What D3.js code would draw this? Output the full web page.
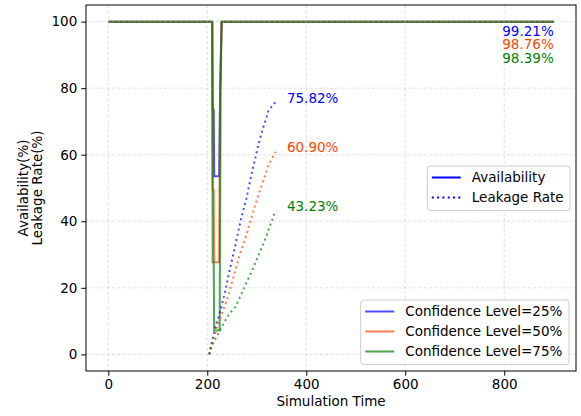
<!DOCTYPE html>
<html>
<head>
<meta charset="utf-8">
<script src="https://d3js.org/d3.v7.min.js"></script>
<style>
  body { margin:0; background:#fff; }
  svg { font-family: "DejaVu Sans", sans-serif; }
</style>
</head>
<body>
<script>

/* Data */
/* ==== */

// availability (solid) – time / value pairs
var availTime = {
  "25%": [0, 210, 211, 213, 214, 224, 226, 229, 900],
  "50%": [0, 210, 211, 213, 214, 224, 226, 229, 900],
  "75%": [0, 210, 211, 213, 214, 225, 227, 229, 900]
};
var availBlue   = [100, 100, 73.5, 73.5, 53.5, 53.5, 80, 100, 100];
var availOrange = [100, 100, 49.5, 49.5, 27.7, 27.7, 80, 100, 100];
var availGreen  = [100, 100, 27.7, 27.7, 7.2, 7.2, 80, 100, 100];

// leakage rate (dotted)
var leakTime   = [204, 207, 214, 220, 227, 237, 244, 257, 267, 279, 290, 302, 311, 318, 324, 338];
var leakBlue   = [0, 2.3, 6.8, 10, 13.3, 19.5, 24.4, 33, 40, 46.8, 54.5, 62.2, 67.3, 70.4, 73.4, 75.82];
var leakOrange = [0, 1.5, 5.5, 8.2, 11, 15.3, 18.5, 25.4, 30.5, 35.8, 41.5, 47.2, 51.3, 54.2, 57, 60.90];
var leakGreen  = [0, 1.8, 4.0, 5.6, 7.6, 10.3, 12.1, 14.3, 17.5, 21.5, 25, 29.2, 32.4, 35, 37.5, 43.23];

var levels      = ["25%", "50%", "75%"];
var finalAvail  = ["99.21%", "98.76%", "98.39%"];
var finalLeak   = ["75.82%", "60.90%", "43.23%"];
var xTicks = [0, 200, 400, 600, 800];
var yTicks = [0, 20, 40, 60, 80, 100];

var lineColors = ["rgba(0,0,255,0.7)", "rgba(255,69,0,0.7)", "rgba(0,128,0,0.7)"];
var textColors = ["blue", "orangered", "green"];

/* Set up */
/* ====== */

var width = 581, height = 416;
var margin = { top: 5, right: 5, bottom: 45, left: 86 };
var w = width - margin.left - margin.right,
    h = height - margin.top - margin.bottom;
var fs = 13.5;

var svg = d3.select('body').append('svg')
    .attr('width', width)
    .attr('height', height);

var g = svg.append('g')
    .attr('transform', 'translate(' + margin.left + ',' + margin.top + ')');

var x = d3.scaleLinear().domain([-45, 945]).range([0, w]);
var y = d3.scaleLinear().domain([-5, 105]).range([h, 0]);

// axes
var xAxis = g.append('g')
    .attr('transform', 'translate(0,' + h + ')')
    .call(d3.axisBottom(x).tickValues(xTicks).tickSize(4.7).tickPadding(4));
var yAxis = g.append('g')
    .call(d3.axisLeft(y).tickValues(yTicks).tickSize(4.7).tickPadding(4));
[xAxis, yAxis].forEach(function(a) {
  a.select('.domain').remove();
  a.selectAll('text').attr('font-size', fs).attr('fill', '#000')
    .attr('font-family', '"DejaVu Sans", sans-serif');
  a.selectAll('line').attr('stroke', '#000').attr('stroke-width', 1);
});

// lines
var line = d3.line().x(d => x(d[0])).y(d => y(d[1]));

var availSeries = [availBlue, availOrange, availGreen];
var leakSeries  = [leakBlue, leakOrange, leakGreen];

availSeries.forEach(function(vals, i) {
  var t = availTime[levels[i]];
  g.append('path')
    .datum(t.map((d, j) => [d, vals[j]]))
    .attr('d', line)
    .attr('fill', 'none')
    .attr('stroke', lineColors[i])
    .attr('stroke-width', 2);
});

leakSeries.forEach(function(vals, i) {
  g.append('path')
    .datum(leakTime.map((d, j) => [d, vals[j]]))
    .attr('d', line)
    .attr('fill', 'none')
    .attr('stroke', lineColors[i])
    .attr('stroke-width', 2)
    .attr('stroke-dasharray', '2,3.3');
});

// grid (drawn over the lines, as in the original)
g.append('g').selectAll('line').data(xTicks).enter().append('line')
    .attr('x1', d => x(d)).attr('x2', d => x(d))
    .attr('y1', 0).attr('y2', h)
    .attr('stroke', 'rgba(176,176,176,0.5)').attr('stroke-width', 0.8)
    .attr('stroke-dasharray', '3,2.2');
g.append('g').selectAll('line').data(yTicks).enter().append('line')
    .attr('y1', d => y(d)).attr('y2', d => y(d))
    .attr('x1', 0).attr('x2', w)
    .attr('stroke', 'rgba(176,176,176,0.5)').attr('stroke-width', 0.8)
    .attr('stroke-dasharray', '3,2.2');

// end value labels
var lastT = leakTime[leakTime.length - 1];
leakSeries.forEach(function(vals, i) {
  g.append('text')
    .attr('x', x(lastT + 23))
    .attr('y', y(vals[vals.length - 1]) + 0.5)
    .attr('font-size', fs)
    .attr('fill', textColors[i])
    .text(finalLeak[i]);
});
finalAvail.forEach(function(s, i) {
  g.append('text')
    .attr('x', x(900))
    .attr('y', y(100) + 14.5 + i * 13.3)
    .attr('text-anchor', 'end')
    .attr('font-size', fs)
    .attr('fill', textColors[i])
    .text(s);
});

// frame
g.append('rect')
    .attr('x', 0).attr('y', 0).attr('width', w).attr('height', h)
    .attr('fill', 'none').attr('stroke', '#000').attr('stroke-width', 1);

// axis labels
svg.append('text')
    .attr('x', margin.left + w / 2).attr('y', 406)
    .attr('text-anchor', 'middle').attr('font-size', fs)
    .text('Simulation Time');
var ylab = svg.append('text')
    .attr('transform', 'translate(0,' + (margin.top + h / 2) + ') rotate(-90)')
    .attr('text-anchor', 'middle').attr('font-size', fs);
ylab.append('tspan').attr('x', 0).attr('y', 27.5).text('Availability(%)');
ylab.append('tspan').attr('x', 0).attr('y', 42).text('Leakage Rate(%)');

// legends
function legend(x0, y0, bw, rows) {
  var lg = g.append('g').attr('transform', 'translate(' + x0 + ',' + y0 + ')');
  lg.append('rect')
    .attr('width', bw).attr('height', rows.length * 20 + 4.5)
    .attr('rx', 3)
    .attr('fill', 'rgba(255,255,255,0.8)')
    .attr('stroke', '#cccccc').attr('stroke-width', 1);
  rows.forEach(function(r, i) {
    var yy = 11.5 + i * 20;
    lg.append('line')
      .attr('x1', 4.5).attr('x2', 33.5).attr('y1', yy).attr('y2', yy)
      .attr('stroke', r.color).attr('stroke-width', 2)
      .attr('stroke-dasharray', r.dash || null);
    lg.append('text')
      .attr('x', 44.5).attr('y', yy).attr('dy', '0.36em')
      .attr('font-size', fs).text(r.label);
  });
}

legend(427.3 - margin.left, 166 - margin.top, 142.7, [
  { label: 'Availability', color: 'blue' },
  { label: 'Leakage Rate', color: 'blue', dash: '2,3.3' }
]);
legend(360.7 - margin.left, 300 - margin.top, 208.3,
  levels.map((l, i) => ({ label: 'Confidence Level=' + l, color: lineColors[i] })));

</script>
</body>
</html>
